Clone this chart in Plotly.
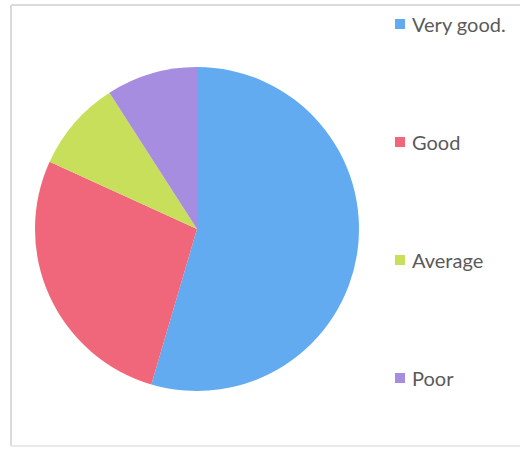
import plotly.graph_objects as go

categories = ["Very good.", "Good", "Average", "Poor"]
values = [30, 15, 5, 5]
colors = ["#62ABF0", "#F0667A", "#C8DF5C", "#A68DE0"]

W, H = 520, 449

fig = go.Figure()
fig.add_trace(go.Pie(
    labels=categories,
    values=values,
    marker=dict(colors=colors, line=dict(width=0)),
    sort=False,
    direction="clockwise",
    rotation=0,
    textinfo="none",
    hoverinfo="label+percent",
    showlegend=False,
    domain=dict(x=[35 / W, 359 / W], y=[(H - 391) / H, (H - 67) / H]),
))

border = dict(color="#cfcfcf", width=1.5)
shapes = [
    dict(type="line", xref="paper", yref="paper", x0=11 / W, x1=1, y0=(H - 5) / H, y1=(H - 5) / H, line=border),
    dict(type="line", xref="paper", yref="paper", x0=11 / W, x1=11 / W, y0=(H - 5) / H, y1=(H - 446) / H, line=border),
    dict(type="line", xref="paper", yref="paper", x0=11 / W, x1=1, y0=(H - 446) / H, y1=(H - 446) / H,
         line=dict(color="#e2e2e2", width=1.5)),
]
annotations = []
legend_y = [24, 142, 260, 378]
for lab, col, ly in zip(categories, colors, legend_y):
    shapes.append(dict(type="rect", xref="paper", yref="paper",
                       x0=395 / W, x1=405 / W, y0=(H - ly - 5) / H, y1=(H - ly + 5) / H,
                       fillcolor=col, line=dict(width=0)))
    annotations.append(dict(text=lab, xref="paper", yref="paper",
                            x=410 / W, y=(H - ly) / H, xanchor="left", yanchor="middle",
                            showarrow=False,
                            font=dict(family="Lato, Open Sans, sans-serif", size=20, color="#5a5a5a")))

fig.update_layout(
    width=W, height=H,
    margin=dict(l=0, r=0, t=0, b=0),
    paper_bgcolor="white",
    plot_bgcolor="white",
    shapes=shapes,
    annotations=annotations,
)

fig.write_html("out.html", config={"displayModeBar": False},
               post_script="document.body.style.margin='0';document.body.style.overflow='hidden';")
